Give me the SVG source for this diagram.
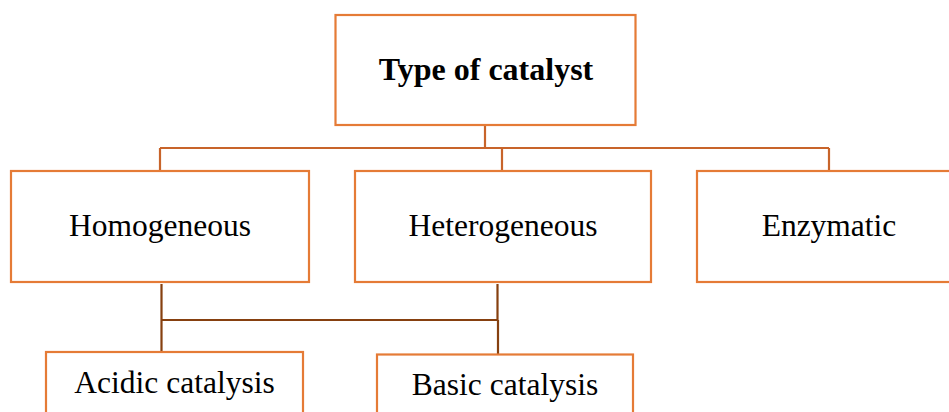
<svg xmlns="http://www.w3.org/2000/svg" width="949" height="412" viewBox="0 0 949 412">
<style>
.box{fill:#fff;stroke:#E57B36;stroke-width:2.2}
.lbl{font-family:"Liberation Serif","Times New Roman",serif;font-size:31.5px;fill:#000;text-anchor:middle}
.title{font-weight:bold;font-size:32px}
.c1{fill:none;stroke:#C8642A;stroke-width:2.2}
.c2{fill:none;stroke:#86400F;stroke-width:2.2}
</style>
<rect width="949" height="412" fill="#fff"/>
<g id="connectors">
<path class="c1" d="M485,125 V148 M160,148 H829 M160,148 V171 M502,148 V171 M829,148 V171"/>
<path class="c2" d="M161.5,284 V320 M497.5,284 V320 M161.5,320 H498.5 M161.5,320 V352 M498,320 V354.5"/>
</g>
<g id="type-of-catalyst">
<rect class="box" x="335.5" y="15" width="300" height="110"/>
<text class="lbl title" x="486" y="80">Type of catalyst</text>
</g>
<g id="homogeneous">
<rect class="box" x="11" y="171" width="298" height="111"/>
<text class="lbl" x="160" y="236">Homogeneous</text>
</g>
<g id="heterogeneous">
<rect class="box" x="355" y="171" width="296" height="111"/>
<text class="lbl" x="503" y="236">Heterogeneous</text>
</g>
<g id="enzymatic">
<rect class="box" x="697" y="171" width="264" height="111"/>
<text class="lbl" x="829" y="236">Enzymatic</text>
</g>
<g id="acidic-catalysis">
<rect class="box" x="46" y="352" width="257" height="80"/>
<text class="lbl" x="174.5" y="393">Acidic catalysis</text>
</g>
<g id="basic-catalysis">
<rect class="box" x="377" y="354.5" width="256" height="80"/>
<text class="lbl" x="505" y="395">Basic catalysis</text>
</g>
</svg>
